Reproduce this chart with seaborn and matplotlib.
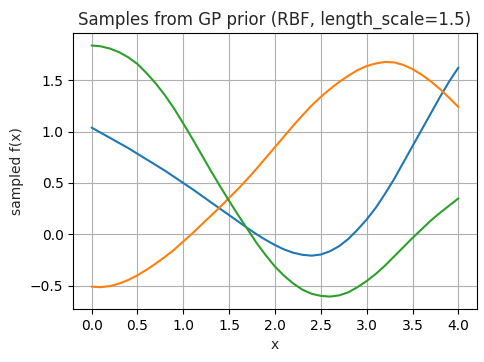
import numpy as np
import pandas as pd
import matplotlib
matplotlib.use("Agg")
import matplotlib.pyplot as plt
import seaborn as sns

# sample grid (step 0.1) and three draws
x = [round(0.1 * i, 1) for i in range(41)]
sample_1 = [1.04, 0.99, 0.94, 0.89, 0.84, 0.785, 0.73, 0.675, 0.62, 0.56,
            0.50, 0.44, 0.377, 0.313, 0.25, 0.187, 0.124, 0.06, 0.0, -0.055,
            -0.105, -0.148, -0.18, -0.20, -0.208, -0.197, -0.165, -0.115, -0.045, 0.045,
            0.145, 0.26, 0.395, 0.54, 0.70, 0.86, 1.02, 1.18, 1.34, 1.49,
            1.625]
sample_2 = [-0.51, -0.515, -0.505, -0.48, -0.445, -0.40, -0.345, -0.285, -0.22, -0.15,
            -0.07, 0.01, 0.095, 0.18, 0.265, 0.355, 0.445, 0.54, 0.64, 0.745,
            0.85, 0.955, 1.06, 1.16, 1.255, 1.34, 1.415, 1.485, 1.545, 1.60,
            1.64, 1.665, 1.68, 1.675, 1.65, 1.61, 1.555, 1.49, 1.415, 1.33,
            1.24]
sample_3 = [1.84, 1.832, 1.81, 1.775, 1.725, 1.66, 1.57, 1.47, 1.355, 1.225,
            1.08, 0.93, 0.775, 0.62, 0.47, 0.325, 0.185, 0.05, -0.085, -0.205,
            -0.315, -0.405, -0.48, -0.54, -0.58, -0.60, -0.607, -0.595, -0.565, -0.515,
            -0.455, -0.385, -0.305, -0.215, -0.125, -0.035, 0.05, 0.135, 0.21, 0.28,
            0.35]

sns.set_style("ticks", {"axes.grid": True, "grid.color": "#b0b0b0"})
plt.rcParams["font.family"] = ["DejaVu Sans"]

df = pd.concat([
    pd.DataFrame({"x": x, "y": s, "sample": name})
    for name, s in [("s1", sample_1), ("s2", sample_2), ("s3", sample_3)]
])

fig, ax = plt.subplots(figsize=(4.85, 3.62), dpi=100)
sns.lineplot(data=df, x="x", y="y", hue="sample",
             palette=["#1f77b4", "#ff7f0e", "#2ca02c"], linewidth=1.5,
             legend=False, ax=ax)
ax.grid(True, color="#b0b0b0", linewidth=0.8)
ax.set_xticks(np.arange(0, 4.01, 0.5))
ax.set_yticks([-0.5, 0.0, 0.5, 1.0, 1.5])
ax.set_title("Samples from GP prior (RBF, length_scale=1.5)", fontsize=12)
ax.set_xlabel("x")
ax.set_ylabel("sampled f(x)")
for sp in ax.spines.values():
    sp.set_color("black")
    sp.set_linewidth(0.8)
ax.tick_params(colors="black", length=3.5, width=0.8)

plt.subplots_adjust(left=0.151, right=0.983, top=0.909, bottom=0.146)
plt.savefig("out.png", dpi=100)
